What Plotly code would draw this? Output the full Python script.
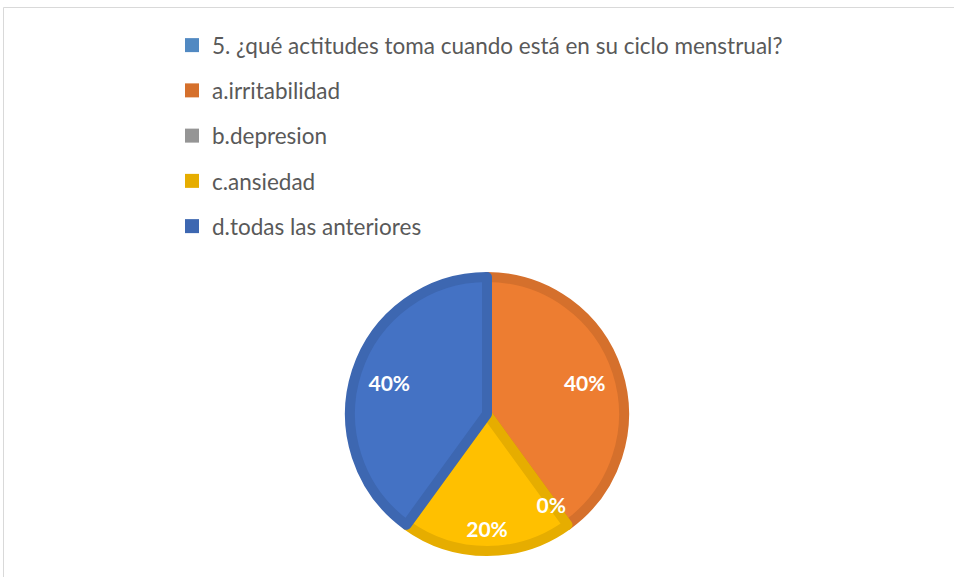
import plotly.graph_objects as go

# datos de la pregunta 5
pregunta = '5. ¿qué actitudes toma cuando está en su ciclo menstrual?'
categorias = ['a.irritabilidad', 'b.depresion', 'c.ansiedad', 'd.todas las anteriores']
valores = [40, 0, 20, 40]
etiquetas = ['40%', '0%', '20%', '40%']

colores = ['#ED7D31', '#A5A5A5', '#FFC000', '#4472C4']
bordes = ['#D5702C', '#959595', '#E6AD00', '#3D67B1']
color_pregunta = '#5B9BD5'
borde_pregunta = '#5189C2'

W, H = 954, 577
cx, cy, R = 487, 414, 137
transparente = ['rgba(0,0,0,0)'] * len(valores)
fuente = dict(family='Lato', size=21, color='white', weight='bold')


def dominio(r):
    return dict(x=[(cx - r) / W, (cx + r) / W], y=[1 - (cy + r) / H, 1 - (cy - r) / H])


def capa_texto(mostrar, posicion, hueco=0, radio=R, giro=0):
    # pastel transparente que solo sirve para colocar algunas etiquetas
    return go.Pie(
        labels=categorias, values=valores, sort=False, direction='clockwise', rotation=giro,
        hole=hueco, text=etiquetas, textinfo='text',
        textposition=[posicion if m else 'none' for m in mostrar],
        insidetextorientation='horizontal', textfont=fuente, outsidetextfont=fuente,
        marker=dict(colors=transparente, line=dict(width=0)),
        domain=dominio(radio), showlegend=False, hoverinfo='skip',
    )


fig = go.Figure()

# pastel principal
fig.add_trace(go.Pie(
    labels=categorias, values=valores, sort=False, direction='clockwise', rotation=0,
    textinfo='none',
    marker=dict(colors=colores,
                line=dict(color=bordes, width=[0 if v == 0 else 10 for v in valores])),
    domain=dominio(R), showlegend=False, hoverinfo='label+percent',
))

# etiquetas: las de 40% en un anillo medio, la de 20% más afuera, la de 0% por fuera de un pastel interior
fig.add_trace(capa_texto([True, False, False, True], 'inside', hueco=0.5))
fig.add_trace(capa_texto([False, False, True, False], 'inside', hueco=0.7))
fig.add_trace(capa_texto([v == 0 for v in valores], 'outside', radio=92, giro=8))

# leyenda estilo Excel, una entrada por grupo para separar las filas
nombres_leyenda = [pregunta] + categorias
colores_leyenda = [borde_pregunta] + bordes
for i, (n, c) in enumerate(zip(nombres_leyenda, colores_leyenda)):
    fig.add_trace(go.Scatter(
        x=[None], y=[None], mode='markers', name=n,
        marker=dict(symbol='square', size=14, color=c),
        legendgroup=str(i), showlegend=True,
    ))

fig.update_layout(
    width=W, height=H,
    margin=dict(l=0, r=0, t=0, b=0),
    paper_bgcolor='white',
    plot_bgcolor='white',
    xaxis=dict(visible=False),
    yaxis=dict(visible=False),
    legend=dict(x=172 / W, y=1 - 24 / H, xanchor='left', yanchor='top',
                font=dict(family='Lato', size=22.5, color='#595959'),
                tracegroupgap=13, itemwidth=30,
                bgcolor='rgba(0,0,0,0)'),
    shapes=[dict(type='rect', xref='paper', yref='paper',
                 x0=3.5 / W, x1=1.05, y0=-0.05, y1=1 - 7.5 / H,
                 line=dict(color='#D9D9D9', width=1))],
)

fig.write_html("out.html", config={'displayModeBar': False},
               post_script="document.body.style.margin='0';")
